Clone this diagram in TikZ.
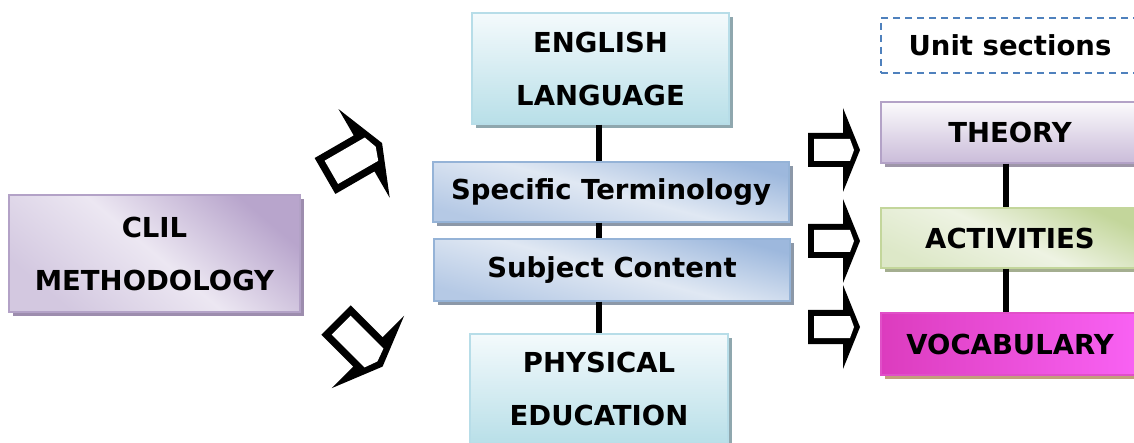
\documentclass[tikz,border=0pt]{standalone}
\usepackage{fontspec}
\setmainfont{DejaVu Sans}
\usetikzlibrary{shadows}
\newcommand{\boxfont}{\bfseries\fontsize{27.5}{53}\selectfont}
\definecolor{clilTop}{HTML}{B8A5CC}
\definecolor{clilMid}{HTML}{ECE7F2}
\definecolor{clilBot}{HTML}{D3C8E0}
\definecolor{clilLine}{HTML}{B3A2C7}
\definecolor{clilShad}{HTML}{9D8DAE}
\definecolor{cyTop}{HTML}{F4FAFC}
\definecolor{cyBot}{HTML}{B8DFE8}
\definecolor{cyLine}{HTML}{B7DDE8}
\definecolor{cyShad}{HTML}{8FA7AE}
\definecolor{blTop}{HTML}{9DB8DD}
\definecolor{blMid}{HTML}{E0E8F3}
\definecolor{blBot}{HTML}{B5C9E5}
\definecolor{blLine}{HTML}{95B3D7}
\definecolor{blShad}{HTML}{8C98A8}
\definecolor{thTop}{HTML}{FBFAFC}
\definecolor{thBot}{HTML}{CABCD9}
\definecolor{thLine}{HTML}{B3A2C7}
\definecolor{thShad}{HTML}{9E96A8}
\definecolor{acTop}{HTML}{C3D69B}
\definecolor{acMid}{HTML}{EEF3E3}
\definecolor{acBot}{HTML}{DDE8C8}
\definecolor{acLine}{HTML}{C3D69B}
\definecolor{acShad}{HTML}{A4AE90}
\definecolor{voL}{HTML}{DC3CBE}
\definecolor{voR}{HTML}{F962F4}
\definecolor{voLine}{HTML}{E050C8}
\definecolor{voShad}{HTML}{C39E7C}
\definecolor{dashBlue}{HTML}{4F81BD}
\tikzset{
  box/.style={draw, line width=1.5pt, inner sep=0pt, font=\boxfont, align=center, text=black},
  shad/.style={general shadow={fill=#1, shadow xshift=4pt, shadow yshift=-4pt}},
  clilbox/.style={box, shad=clilShad, draw=clilLine, top color=clilTop, bottom color=clilBot, middle color=clilMid, shading angle=-40},
  cybox/.style={box, shad=cyShad, draw=cyLine, top color=cyTop, bottom color=cyBot},
  blbox/.style={box, shad=blShad, draw=blLine, top color=blTop, bottom color=blBot, middle color=blMid, shading angle=-15},
  thbox/.style={box, shad=thShad, draw=thLine, top color=thTop, bottom color=thBot},
  acbox/.style={box, shad=acShad, draw=acLine, top color=acTop, bottom color=acBot, middle color=acMid, shading angle=-25},
  vobox/.style={box, shad=voShad, draw=voLine, left color=voL, right color=voR},
  unitbox/.style={box, draw=dashBlue, dash pattern=on 7pt off 5pt, fill=white},
  link/.style={line width=6pt, black},
}
% #1 = shaft length (local units)
\newcommand{\blockarrow}[1]{%
  \fill[black] (0,-17) -- (#1,-17) -- (#1,-42) -- (#1+17,0) -- (#1,42) -- (#1,17) -- (0,17) -- cycle;
  \fill[white] (6,-11) -- (#1+7,-11) -- (#1+11,0) -- (#1+7,11) -- (6,11) -- cycle;}
\begin{document}
\begin{tikzpicture}[x=1pt, y=-1pt]
\useasboundingbox (0,0) rectangle (1134,443);

% left box
\node[clilbox, minimum width=291pt, minimum height=117pt] (clil) at (154.5,253.5) {CLIL\\METHODOLOGY};

% middle column
\node[cybox, minimum width=257pt, minimum height=111pt] (eng) at (600.5,68.5) {ENGLISH\\LANGUAGE};
\node[blbox, minimum width=356pt, minimum height=60pt] (spec) at (611,192) {Specific Terminology};
\node[blbox, minimum width=356pt, minimum height=62pt] (subj) at (612,270) {Subject Content};
\node[cybox, minimum width=258pt, minimum height=110pt] (phys) at (599,389) {PHYSICAL\\EDUCATION};

\draw[link] (eng.south -| 599,0) -- (spec.north -| 599,0);
\draw[link] (spec.south -| 599,0) -- (subj.north -| 599,0);
\draw[link] (subj.south -| 599,0) -- (phys.north -| 599,0);

% right column
\node[unitbox, minimum width=258pt, minimum height=55pt] (unit) at (1010,45.5) {Unit sections};
\node[thbox, minimum width=258pt, minimum height=61pt] (theory) at (1010,132.5) {THEORY};
\node[acbox, minimum width=258pt, minimum height=60pt] (act) at (1010,238) {ACTIVITIES};
\node[vobox, minimum width=258pt, minimum height=62pt] (voc) at (1010,344) {VOCABULARY};

\draw[link] (theory.south -| 1006,0) -- (act.north -| 1006,0);
\draw[link] (act.south -| 1006,0) -- (voc.north -| 1006,0);

% block arrows
\begin{scope}[shift={(325,176)}, rotate=30, scale=1.22] \blockarrow{37} \end{scope}
\begin{scope}[shift={(336,320)}, rotate=-45, scale=1.22] \blockarrow{37} \end{scope}
\begin{scope}[shift={(808,150)}] \blockarrow{35} \end{scope}
\begin{scope}[shift={(808,241)}] \blockarrow{35} \end{scope}
\begin{scope}[shift={(808,327)}] \blockarrow{35} \end{scope}
\end{tikzpicture}
\end{document}
